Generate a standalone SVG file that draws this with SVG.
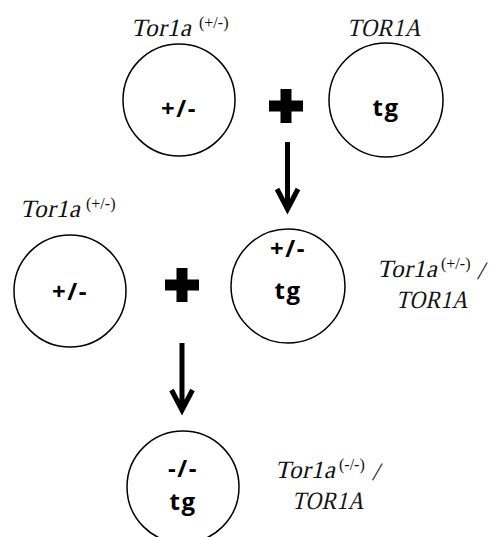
<svg xmlns="http://www.w3.org/2000/svg" width="491" height="537" viewBox="0 0 491 537">
<style>
.c{fill:#fff;stroke:#000;stroke-width:1.5}
.t{font-family:"Open Sans","Liberation Sans",sans-serif;font-weight:700;font-size:24px;fill:#000;text-anchor:middle;letter-spacing:1.5px}
.l{font-family:"Liberation Serif",serif;font-size:25px;fill:#111;letter-spacing:0.5px}
.s{font-family:"Liberation Serif",serif;font-size:16px;fill:#111}
.a{fill:none;stroke:#000;stroke-width:5}
.p{fill:#000}
</style>
<defs>
<path id="plus" d="M-5.5,-17 H5.5 V-5.5 H17 V5.5 H5.5 V17 H-5.5 V5.5 H-17 V-5.5 H-5.5 Z"/>
</defs>
<rect width="491" height="537" fill="#fff"/>
<g id="n1">
<circle class="c" cx="179" cy="100" r="56"/>
<text class="t" x="179" y="117">+/-</text>
<text class="l" transform="translate(131,36) skewX(-13)">Tor1a</text>
<text class="s" x="199" y="28">(+/-)</text>
</g>
<g id="n2">
<circle class="c" cx="386" cy="100" r="57"/>
<text class="t" x="386" y="116">tg</text>
<text class="l" transform="translate(347,36) skewX(-13)" textLength="74" lengthAdjust="spacingAndGlyphs">TOR1A</text>
</g>
<g id="n3">
<circle class="c" cx="70" cy="291" r="56"/>
<text class="t" x="70" y="300">+/-</text>
<text class="l" transform="translate(20,217) skewX(-13)">Tor1a</text>
<text class="s" x="86" y="209">(+/-)</text>
</g>
<g id="n4">
<circle class="c" cx="288" cy="286" r="57"/>
<text class="t" x="288" y="257">+/-</text>
<text class="t" x="288" y="299">tg</text>
<text class="l" transform="translate(377,277) skewX(-13)">Tor1a</text>
<text class="s" x="441" y="269">(+/-)</text>
<text class="l" transform="translate(477,279) skewX(-13)" font-size="21" letter-spacing="0">/</text>
<text class="l" transform="translate(396,308) skewX(-13)" textLength="72" lengthAdjust="spacingAndGlyphs">TOR1A</text>
</g>
<g id="n5">
<circle class="c" cx="183" cy="487" r="56"/>
<text class="t" x="183" y="477">-/-</text>
<text class="t" x="183" y="510">tg</text>
<text class="l" transform="translate(275,478) skewX(-13)">Tor1a</text>
<text class="s" x="339" y="470">(-/-)</text>
<text class="l" transform="translate(372,480) skewX(-13)" font-size="21" letter-spacing="0">/</text>
<text class="l" transform="translate(292,509) skewX(-13)" textLength="72" lengthAdjust="spacingAndGlyphs">TOR1A</text>
</g>
<g id="connectors">
<use href="#plus" class="p" x="286" y="106"/>
<use href="#plus" class="p" x="182" y="285"/>
<path class="a" d="M287.5,142 V209 M277,189 L287.5,209 L298,189"/>
<path class="a" d="M182,343 V410 M171.5,390 L182,410 L192.5,390"/>
</g>
</svg>
